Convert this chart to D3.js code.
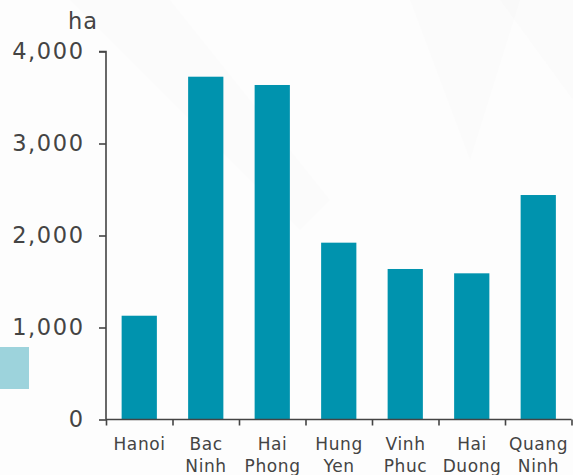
<!DOCTYPE html>
<html lang="en">
<head>
<meta charset="UTF-8">
<title>Area by province (ha)</title>
<script src="https://d3js.org/d3.v7.min.js"></script>
<style>
    body { margin: 0; padding: 0; background: #fdfdfd; }
    svg { display: block; }
    .axis text { font-family: 'DejaVu Sans', sans-serif; fill: #444; }
    .axis path, .axis line { stroke: #444; stroke-width: 1.6; }
</style>
</head>
<body>
<script>
    // values, in hectares
    const provinces = ["Hanoi", "Bac Ninh", "Hai Phong", "Hung Yen", "Vinh Phuc", "Hai Duong", "Quang Ninh"];
    const areaHa = [1128, 3726, 3636, 1922, 1636, 1589, 2440];
    const yTicks = [0, 1000, 2000, 3000, 4000];

    const width = 573, height = 475;
    const margin = { top: 51.5, right: 1.5, bottom: 55.5, left: 106 };
    const innerW = width - margin.left - margin.right;
    const innerH = height - margin.top - margin.bottom;

    const svg = d3.select("body").append("svg")
        .attr("width", width)
        .attr("height", height);

    // faint background shapes
    svg.append("path")
        .attr("d", "M70,0 L170,0 L330,200 L300,230 Z")
        .attr("fill", "#eeeeee").attr("opacity", 0.1);
    svg.append("path")
        .attr("d", "M410,0 L520,0 L470,160 Z")
        .attr("fill", "#eeeeee").attr("opacity", 0.1);
    svg.append("path")
        .attr("d", "M500,0 L573,0 L573,100 Z")
        .attr("fill", "#eeeeee").attr("opacity", 0.1);

    // light teal marker on the left edge
    svg.append("rect")
        .attr("x", 0).attr("y", 347)
        .attr("width", 29).attr("height", 42)
        .attr("fill", "#9dd3dc");

    const g = svg.append("g")
        .attr("transform", `translate(${margin.left},${margin.top})`);

    const x = d3.scaleBand()
        .domain(provinces)
        .range([0, innerW])
        .paddingInner(0.47)
        .paddingOuter(0.235);

    const y = d3.scaleLinear()
        .domain([0, 4000])
        .range([innerH, 0]);

    g.selectAll(".bar")
        .data(provinces)
        .enter()
        .append("rect")
        .attr("class", "bar")
        .attr("x", d => x(d))
        .attr("width", x.bandwidth())
        .attr("y", (d, i) => y(areaHa[i]))
        .attr("height", (d, i) => y(0) - y(areaHa[i]))
        .attr("fill", "#0093ae");

    // y axis
    const yAxis = g.append("g")
        .attr("class", "axis")
        .call(d3.axisLeft(y).tickValues(yTicks).tickSize(7).tickPadding(16)
            .tickFormat(d3.format(",")));
    yAxis.select(".domain").attr("d", `M-7,0H0V${innerH}`);
    yAxis.selectAll("text")
        .style("font-size", "22.5px")
        .style("letter-spacing", "1.6px")
        .attr("dx", "1.6");

    // x axis: ticks sit on the band boundaries
    const edges = d3.scaleLinear().domain([0, provinces.length]).range([0, innerW]);
    const xAxis = g.append("g")
        .attr("class", "axis")
        .attr("transform", `translate(0,${innerH})`)
        .call(d3.axisBottom(edges).tickValues(d3.range(provinces.length + 1))
            .tickSize(6).tickFormat(""));
    xAxis.select(".domain").attr("d", `M0,0H${innerW}`);

    const labels = g.append("g")
        .attr("class", "axis")
        .attr("transform", `translate(0,${innerH})`);
    labels.selectAll("text")
        .data(provinces)
        .enter()
        .append("text")
        .attr("text-anchor", "middle")
        .style("font-size", "17px")
        .style("letter-spacing", "0.6px")
        .each(function(d) {
            const words = d.split(" ");
            words.forEach((w, i) => {
                d3.select(this).append("tspan")
                    .attr("x", x(d) + x.bandwidth() / 2 + 0.3)
                    .attr("y", 30.5 + i * 22)
                    .text(w);
            });
        });

    // unit label
    svg.append("text")
        .attr("x", 83)
        .attr("y", 29)
        .attr("text-anchor", "middle")
        .style("font-family", "'DejaVu Sans', sans-serif")
        .style("font-size", "22.5px")
        .style("letter-spacing", "1px")
        .style("fill", "#444")
        .text("ha");
</script>
</body>
</html>
